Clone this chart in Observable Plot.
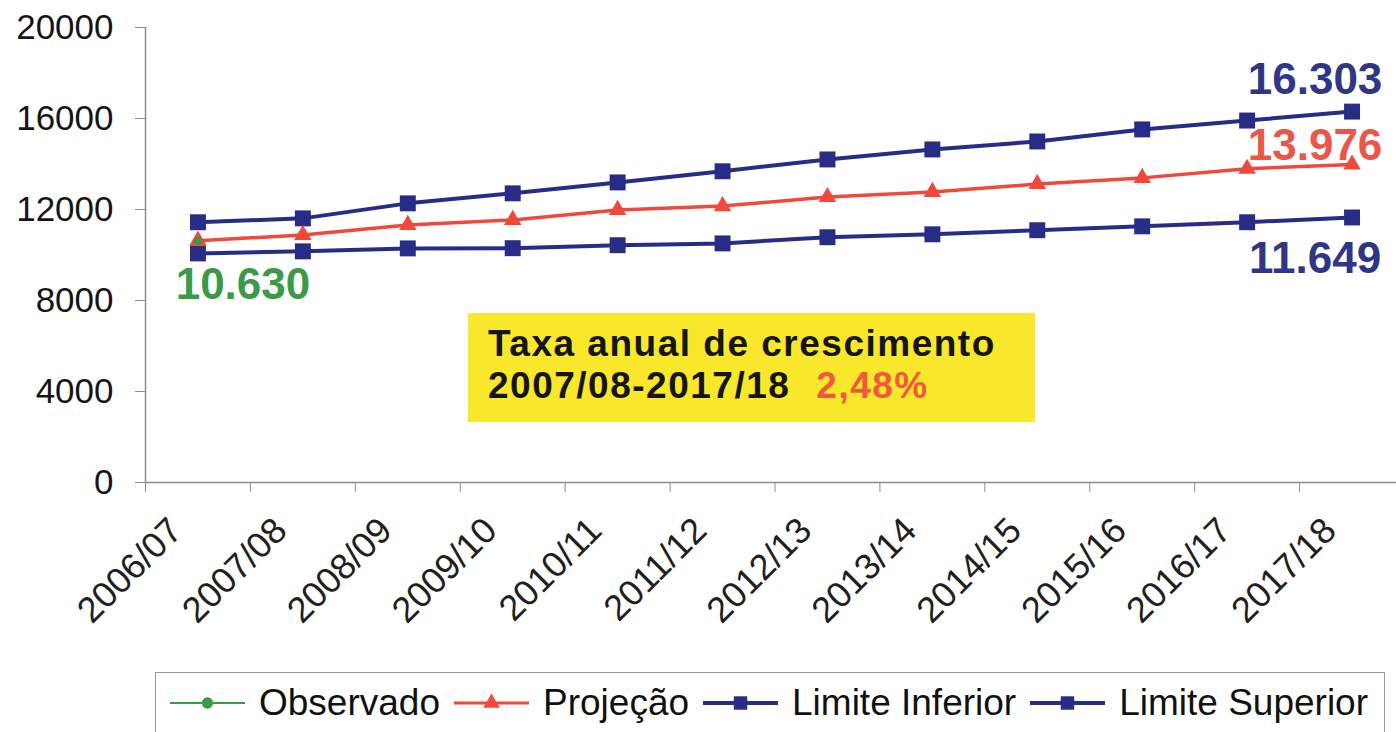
<!DOCTYPE html>
<html><head><meta charset="utf-8">
<script src="https://cdn.jsdelivr.net/npm/d3@7"></script>
<script src="https://cdn.jsdelivr.net/npm/@observablehq/plot@0.6"></script>
<style>
body{margin:0;background:#fff;font-family:"Liberation Sans",Arial,sans-serif;}
#wrap{position:relative;width:1396px;height:732px;overflow:hidden;background:#fff;}
#chart{position:absolute;left:0;top:0;}
#box{position:absolute;left:468px;top:313px;width:567px;height:109px;background:#f9e72b;box-sizing:border-box;padding:10px 0 0 20px;font-weight:bold;font-size:37px;line-height:42px;letter-spacing:1.5px;color:#151515;white-space:nowrap;}
#box .rate{color:#f2593c;margin-left:26px;}
#legend{position:absolute;left:155px;top:672px;width:1230px;height:62px;border:1.5px solid #999;box-sizing:border-box;display:flex;align-items:center;padding-left:14px;font-size:37px;color:#111;white-space:nowrap;}
#legend .item{display:flex;align-items:center;margin-right:14px;}
#legend svg{margin-right:14px;}
</style></head>
<body>
<div id="wrap">
  <div id="chart"></div>
  <div id="box">Taxa anual de crescimento<br>2007/08-2017/18<span class="rate">2,48%</span></div>
  <div id="legend"></div>
</div>
<script>
const categories = ["2006/07","2007/08","2008/09","2009/10","2010/11","2011/12","2012/13","2013/14","2014/15","2015/16","2016/17","2017/18"];
const observado = [10630];
const projecao = [10630, 10880, 11320, 11540, 11980, 12150, 12550, 12770, 13120, 13390, 13790, 13976];
const limiteInferior = [10070, 10160, 10290, 10300, 10430, 10510, 10780, 10910, 11090, 11260, 11440, 11649];
const limiteSuperior = [11440, 11610, 12270, 12710, 13190, 13680, 14200, 14640, 14990, 15520, 15910, 16303];
const yTicks = [0, 4000, 8000, 12000, 16000, 20000];
const seriesNames = ["Observado", "Projeção", "Limite Inferior", "Limite Superior"];

const navy = "#272d86", red = "#f0493b", green = "#3a9a48";
const toRows = arr => arr.map((v, i) => ({i, v}));
const obs = toRows(observado), proj = toRows(projecao), inf = toRows(limiteInferior), sup = toRows(limiteSuperior);
const fmt = d3.formatLocale({thousands: ".", grouping: [3], decimal: ",", currency: ["", ""]}).format(",d");
const last = arr => [arr[arr.length - 1]];

const chart = Plot.plot({
  width: 1396, height: 660,
  marginLeft: 145, marginRight: -8, marginTop: 27, marginBottom: 178,
  x: {type: "linear", domain: [-0.5, 11.5]},
  y: {domain: [0, 20000]},
  style: {fontFamily: '"Liberation Sans", Arial, sans-serif', color: "#151515", background: "transparent"},
  marks: [
    Plot.ruleX([-0.5], {stroke: "#8c8c8c", strokeWidth: 1.5}),
    Plot.ruleY([0], {stroke: "#8c8c8c", strokeWidth: 1.5}),
    Plot.axisY({ticks: yTicks, tickSize: 10, tickPadding: 22, fontSize: 35, tickFormat: d3.format("d"), stroke: "#8c8c8c", label: null}),
    Plot.axisX({ticks: d3.range(-0.5, 12, 1), tickSize: 10, tickFormat: () => "", stroke: "#8c8c8c", label: null}),
    Plot.axisX({ticks: d3.range(12), tickSize: 0, tickPadding: 42, tickRotate: -45, fontSize: 36, dx: -22,
      fill: "#202020", tickFormat: i => categories[i], label: null}),
    Plot.line(sup, {x: "i", y: "v", stroke: navy, strokeWidth: 4}),
    Plot.line(inf, {x: "i", y: "v", stroke: navy, strokeWidth: 4}),
    Plot.line(proj, {x: "i", y: "v", stroke: red, strokeWidth: 3.5}),
    Plot.dot(sup, {x: "i", y: "v", symbol: "square", fill: navy, r: 9}),
    Plot.dot(inf, {x: "i", y: "v", symbol: "square", fill: navy, r: 9}),
    Plot.dot(proj, {x: "i", y: "v", symbol: "triangle", fill: red, r: 6.5}),
    Plot.dot(obs, {x: "i", y: "v", symbol: "circle", fill: green, r: 4}),
    Plot.text(last(sup), {x: "i", y: "v", text: d => fmt(d.v), dx: -37, dy: -32, fontSize: 44, fontWeight: "bold", fill: "#2f3686"}),
    Plot.text(last(proj), {x: "i", y: "v", text: d => fmt(d.v), dx: -37, dy: -19, fontSize: 44, fontWeight: "bold", fill: "#e8584a"}),
    Plot.text(last(inf), {x: "i", y: "v", text: d => fmt(d.v), dx: -37, dy: 41, fontSize: 44, fontWeight: "bold", fill: "#2f3686"}),
    Plot.text(obs, {x: "i", y: "v", text: d => fmt(d.v), dx: 45, dy: 44, fontSize: 44, fontWeight: "bold", fill: green})
  ]
});
document.getElementById("chart").appendChild(chart);

// legend
const legendSpec = [
  {name: seriesNames[0], color: green, sym: "circle"},
  {name: seriesNames[1], color: red, sym: "triangle"},
  {name: seriesNames[2], color: navy, sym: "square"},
  {name: seriesNames[3], color: navy, sym: "square"}
];
const lg = document.getElementById("legend");
for (const s of legendSpec) {
  const item = document.createElement("div");
  item.className = "item";
  const ns = "http://www.w3.org/2000/svg";
  const svg = document.createElementNS(ns, "svg");
  svg.setAttribute("width", 75); svg.setAttribute("height", 24);
  const ln = document.createElementNS(ns, "line");
  ln.setAttribute("x1", 0); ln.setAttribute("x2", 75); ln.setAttribute("y1", 12); ln.setAttribute("y2", 12);
  ln.setAttribute("stroke", s.color); ln.setAttribute("stroke-width", s.sym === "circle" ? 2 : (s.sym === "triangle" ? 3 : 4));
  svg.appendChild(ln);
  const p = document.createElementNS(ns, "path");
  const symType = s.sym === "circle" ? d3.symbolCircle : s.sym === "triangle" ? d3.symbolTriangle : d3.symbolSquare;
  const size = s.sym === "circle" ? 100 : s.sym === "triangle" ? 120 : 180;
  p.setAttribute("d", d3.symbol(symType, size)());
  p.setAttribute("transform", "translate(37.5,12)");
  p.setAttribute("fill", s.color);
  svg.appendChild(p);
  item.appendChild(svg);
  const t = document.createElement("span");
  t.textContent = s.name;
  item.appendChild(t);
  lg.appendChild(item);
}
</script>
</body></html>
